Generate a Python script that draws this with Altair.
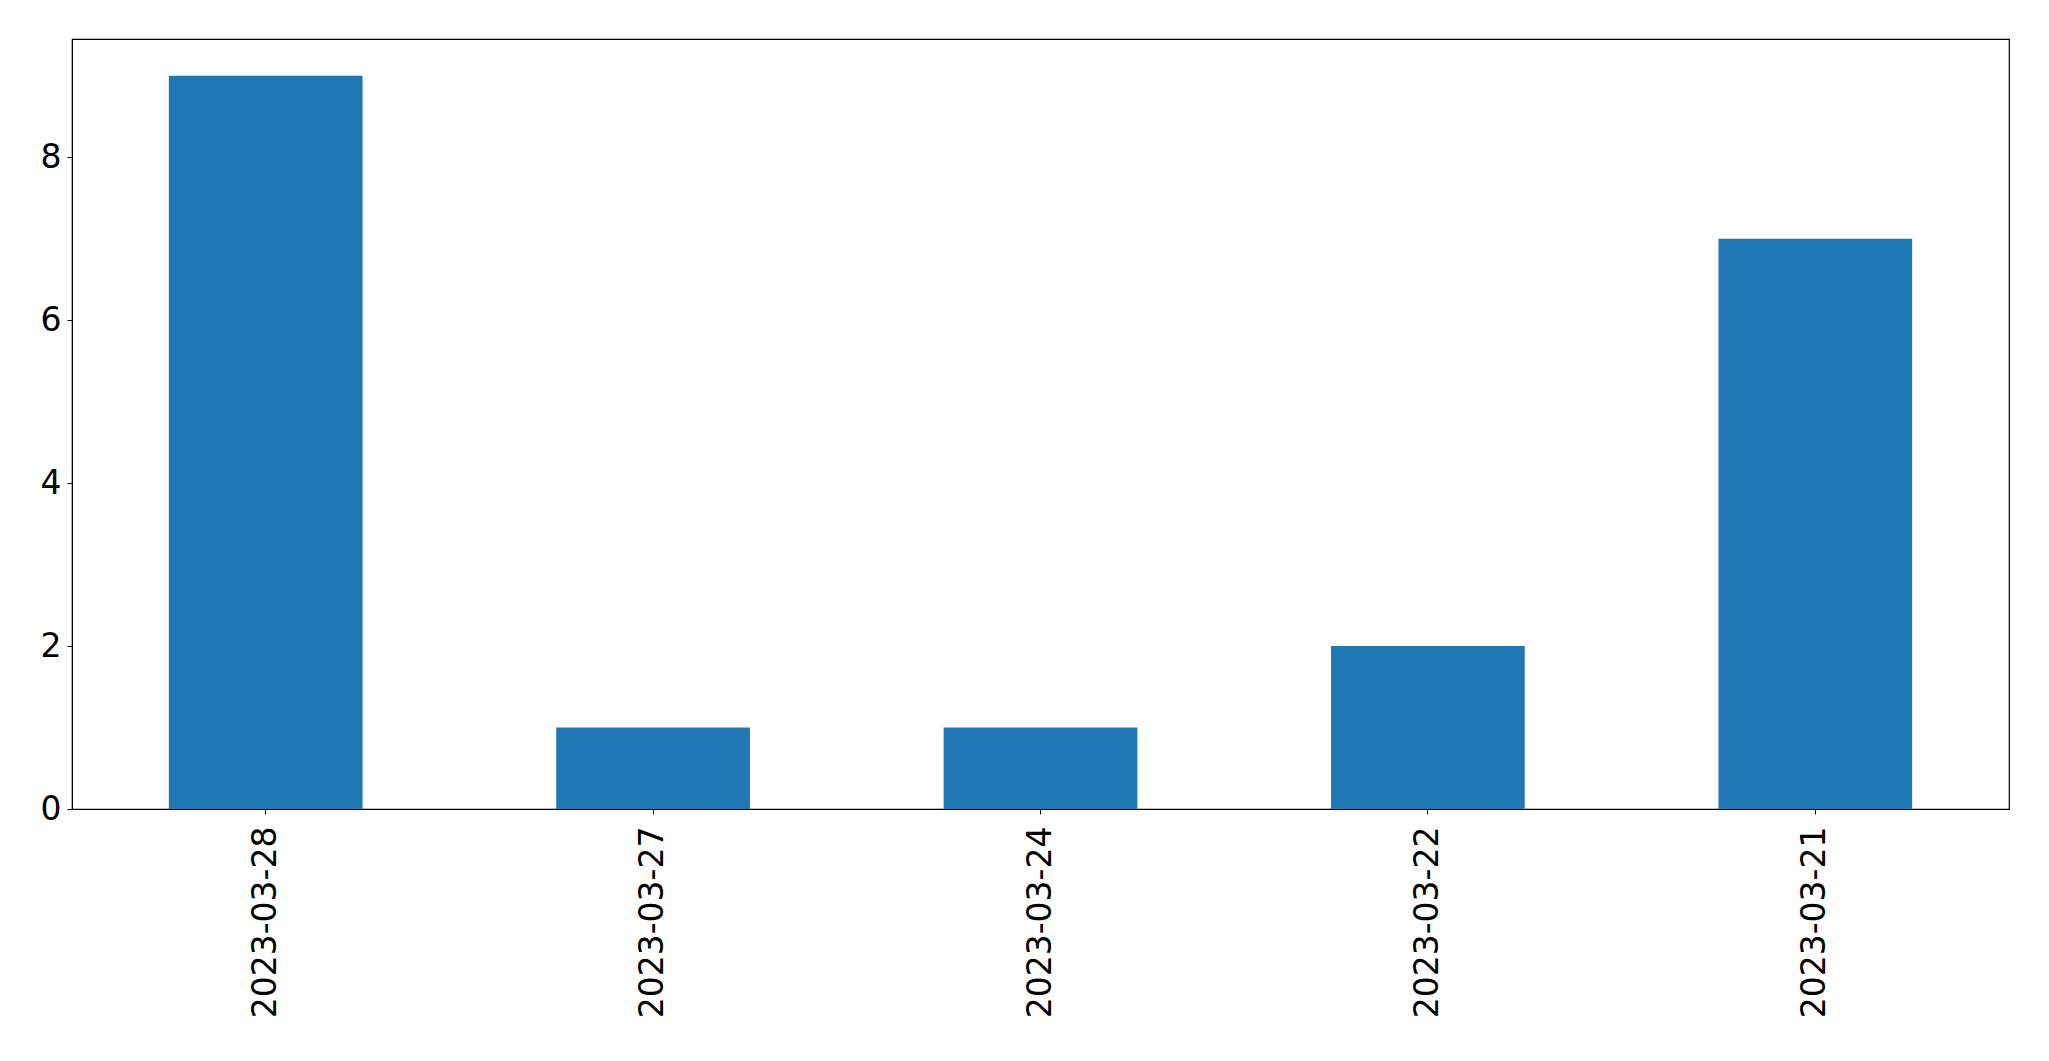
import altair as alt
import pandas as pd

dates = ["2023-03-28", "2023-03-27", "2023-03-24", "2023-03-22", "2023-03-21"]
counts = [9, 1, 1, 2, 7]

df = pd.DataFrame({"date": dates, "count": counts})

FONT = "DejaVu Sans"

chart = alt.Chart(df).mark_bar(color="#1f77b4").encode(
    x=alt.X(
        "date:N",
        sort=None,
        scale=alt.Scale(paddingInner=0.5, paddingOuter=0.25),
        axis=alt.Axis(
            title=None,
            labelAngle=270,
            labelAlign="right",
            labelBaseline="middle",
            labelFontSize=33,
            labelFont=FONT,
            labelColor="black",
            labelPadding=12,
            labelLimit=0,
            tickColor="black",
            tickSize=5,
            domainColor="black",
            grid=False,
        ),
    ),
    y=alt.Y(
        "count:Q",
        scale=alt.Scale(domain=[0, 9.45], nice=False, zero=True),
        axis=alt.Axis(
            title=None,
            values=[0, 2, 4, 6, 8],
            labelFontSize=33,
            labelFont=FONT,
            labelColor="black",
            labelPadding=6,
            tickColor="black",
            tickSize=5,
            domainColor="black",
            grid=False,
        ),
    ),
).properties(
    width=1937,
    height=770,
    autosize=alt.AutoSizeParams(type="none"),
    padding={"left": 64, "top": 31, "right": 20, "bottom": 230},
).configure(
    background="white",
    font=FONT,
).configure_view(
    stroke="black",
    strokeWidth=1.2,
)

chart.save("out.html", embed_options={"renderer": "svg", "actions": False})
